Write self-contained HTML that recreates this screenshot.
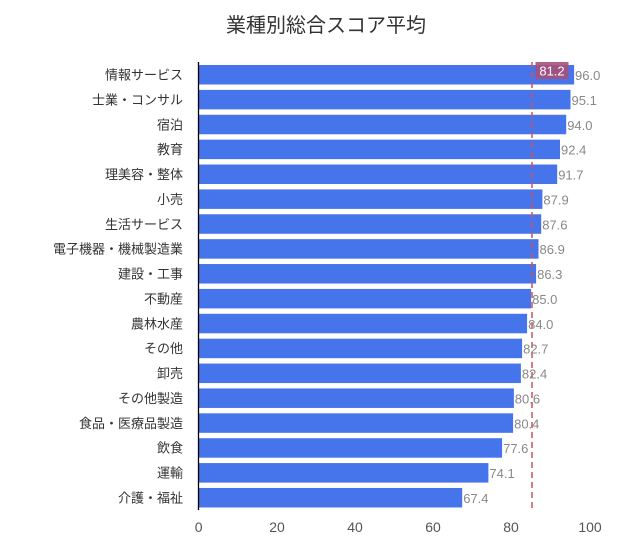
<!DOCTYPE html>
<html><head><meta charset="utf-8"><style>
body{margin:0;background:#fff}
svg{display:block}
text{font-family:"Liberation Sans","Noto Sans CJK JP",sans-serif}
</style></head><body>
<svg width="641" height="543" xmlns="http://www.w3.org/2000/svg">
<text x="326" y="32" font-size="20" text-anchor="middle" fill="#333">業種別総合スコア平均</text>
<g fill="#4674ea">
<rect x="198.7" y="65" width="375.4" height="19.5"/>
<rect x="198.7" y="89.88" width="371.8" height="19.5"/>
<rect x="198.7" y="114.76" width="367.5" height="19.5"/>
<rect x="198.7" y="139.64" width="361.3" height="19.5"/>
<rect x="198.7" y="164.52" width="358.5" height="19.5"/>
<rect x="198.7" y="189.4" width="343.7" height="19.5"/>
<rect x="198.7" y="214.28" width="342.5" height="19.5"/>
<rect x="198.7" y="239.16" width="339.8" height="19.5"/>
<rect x="198.7" y="264.04" width="337.4" height="19.5"/>
<rect x="198.7" y="288.92" width="332.4" height="19.5"/>
<rect x="198.7" y="313.8" width="328.4" height="19.5"/>
<rect x="198.7" y="338.68" width="323.4" height="19.5"/>
<rect x="198.7" y="363.56" width="322.2" height="19.5"/>
<rect x="198.7" y="388.44" width="315.2" height="19.5"/>
<rect x="198.7" y="413.32" width="314.4" height="19.5"/>
<rect x="198.7" y="438.2" width="303.4" height="19.5"/>
<rect x="198.7" y="463.08" width="289.7" height="19.5"/>
<rect x="198.7" y="487.96" width="263.5" height="19.5"/>
</g>
<g font-size="13" fill="#333" text-anchor="end">
<text x="183" y="79.5">情報サービス</text>
<text x="183" y="104.4">士業・コンサル</text>
<text x="183" y="129.3">宿泊</text>
<text x="183" y="154.1">教育</text>
<text x="183" y="179">理美容・整体</text>
<text x="183" y="203.9">小売</text>
<text x="183" y="228.8">生活サービス</text>
<text x="183" y="253.7">電子機器・機械製造業</text>
<text x="183" y="278.5">建設・工事</text>
<text x="183" y="303.4">不動産</text>
<text x="183" y="328.3">農林水産</text>
<text x="183" y="353.2">その他</text>
<text x="183" y="378.1">卸売</text>
<text x="183" y="402.9">その他製造</text>
<text x="183" y="427.8">食品・医療品製造</text>
<text x="183" y="452.7">飲食</text>
<text x="183" y="477.6">運輸</text>
<text x="183" y="502.5">介護・福祉</text>
</g>
<line x1="198.5" y1="62" x2="198.5" y2="510" stroke="#000" stroke-width="1.3"/>
<line x1="532" y1="62" x2="532" y2="512" stroke="#c9545f" stroke-width="1.5" stroke-dasharray="6,4"/>
<g font-size="13" fill="#888">
<text x="575" y="80">96.0</text>
<text x="571.5" y="104.9">95.1</text>
<text x="567.2" y="129.8">94.0</text>
<text x="561" y="154.6">92.4</text>
<text x="558.2" y="179.5">91.7</text>
<text x="543.4" y="204.4">87.9</text>
<text x="542.2" y="229.3">87.6</text>
<text x="539.5" y="254.2">86.9</text>
<text x="537.1" y="279">86.3</text>
<text x="532.1" y="303.9">85.0</text>
<text x="528.1" y="328.8">84.0</text>
<text x="523.1" y="353.7">82.7</text>
<text x="521.9" y="378.6">82.4</text>
<text x="514.8" y="403.4">80.6</text>
<text x="514.1" y="428.3">80.4</text>
<text x="503.1" y="453.2">77.6</text>
<text x="489.4" y="478.1">74.1</text>
<text x="463.2" y="503">67.4</text>
</g>
<rect x="535.5" y="62" width="33" height="17" fill="#a8507a" opacity="0.9"/>
<text x="552" y="75.5" font-size="13" fill="#fff" text-anchor="middle">81.2</text>
<g font-size="14" fill="#555" text-anchor="middle">
<text x="198.7" y="532">0</text><text x="277" y="532">20</text><text x="355" y="532">40</text><text x="433" y="532">60</text><text x="511" y="532">80</text><text x="590" y="532">100</text>
</g>
</svg>
</body></html>
